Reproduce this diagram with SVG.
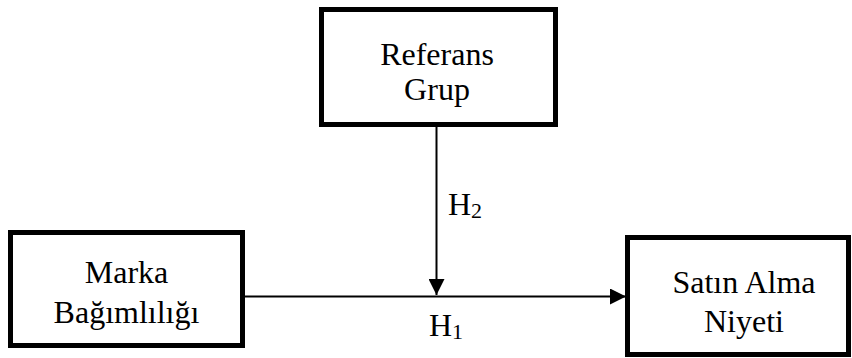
<svg xmlns="http://www.w3.org/2000/svg" width="852" height="358" viewBox="0 0 852 358">
<style>
.box{fill:#fff;stroke:#000;stroke-width:5}
.t{font-family:"Liberation Serif","Times New Roman",serif;font-size:32px;fill:#000;text-anchor:middle}
.lbl{font-family:"Liberation Serif","Times New Roman",serif;font-size:32px;fill:#000}
.sub{font-size:22px}
.conn{stroke:#000;stroke-width:2;fill:none}
</style>
<defs>
<marker id="arr" markerUnits="userSpaceOnUse" markerWidth="16" markerHeight="16" viewBox="0 0 16 16" refX="16" refY="8" orient="auto">
<path d="M0,0 L16,8 L0,16 Z" fill="#000"/>
</marker>
</defs>
<rect width="852" height="358" fill="#fff"/>
<g id="connectors">
<line class="conn" x1="243" y1="296.5" x2="626" y2="296.5" marker-end="url(#arr)"/>
<line class="conn" x1="436.5" y1="127" x2="436.5" y2="295" marker-end="url(#arr)"/>
<text class="lbl" x="448" y="215">H<tspan class="sub" dy="3">2</tspan></text>
<text class="lbl" x="429" y="336">H<tspan class="sub" dy="3">1</tspan></text>
</g>
<g id="referans">
<rect class="box" x="321.5" y="9.5" width="234" height="115"/>
<text class="t" x="437" y="65">Referans</text>
<text class="t" x="437" y="100">Grup</text>
</g>
<g id="marka">
<rect class="box" x="10.5" y="232.5" width="232" height="113"/>
<text class="t" x="126.5" y="283">Marka</text>
<text class="t" x="126.5" y="323">Bağımlılığı</text>
</g>
<g id="satin">
<rect class="box" x="627.5" y="237.5" width="221" height="117"/>
<text class="t" x="744" y="293">Satın Alma</text>
<text class="t" x="744" y="332">Niyeti</text>
</g>
</svg>
